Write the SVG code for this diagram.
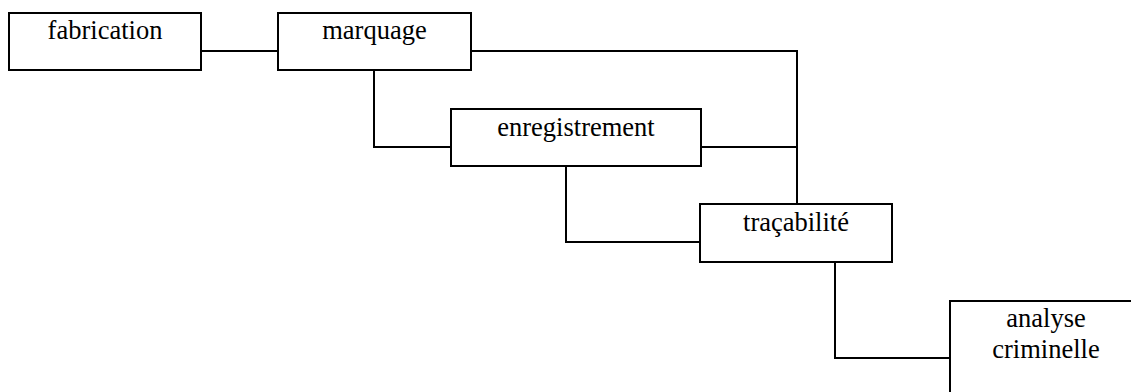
<svg xmlns="http://www.w3.org/2000/svg" width="1131" height="392" viewBox="0 0 1131 392">
<style>
.box{fill:#fff;stroke:#000;stroke-width:2}
.ln{fill:none;stroke:#000;stroke-width:2}
text{font-family:"Liberation Serif","Times New Roman",serif;font-size:26.5px;fill:#000;text-anchor:middle}
</style>
<rect width="1131" height="392" fill="#fff"/>
<g id="connectors">
<path class="ln" d="M201 51H278"/>
<path class="ln" d="M471 51H797V204"/>
<path class="ln" d="M374 70V147H451"/>
<path class="ln" d="M701 147H797"/>
<path class="ln" d="M566 166V242H700"/>
<path class="ln" d="M835 262V358H950"/>
</g>
<g id="fabrication"><rect class="box" x="9" y="13" width="192" height="57"/><text x="105" y="39">fabrication</text></g>
<g id="marquage"><rect class="box" x="278" y="13" width="193" height="57"/><text x="374.5" y="39">marquage</text></g>
<g id="enregistrement"><rect class="box" x="451" y="109" width="250" height="57"/><text x="576" y="136">enregistrement</text></g>
<g id="tracabilite"><rect class="box" x="700" y="204" width="192" height="58"/><text x="796" y="231">traçabilité</text></g>
<g id="analyse"><rect class="box" x="950" y="301" width="192" height="100"/><text x="1046" y="327">analyse</text><text x="1046" y="358">criminelle</text></g>
</svg>
